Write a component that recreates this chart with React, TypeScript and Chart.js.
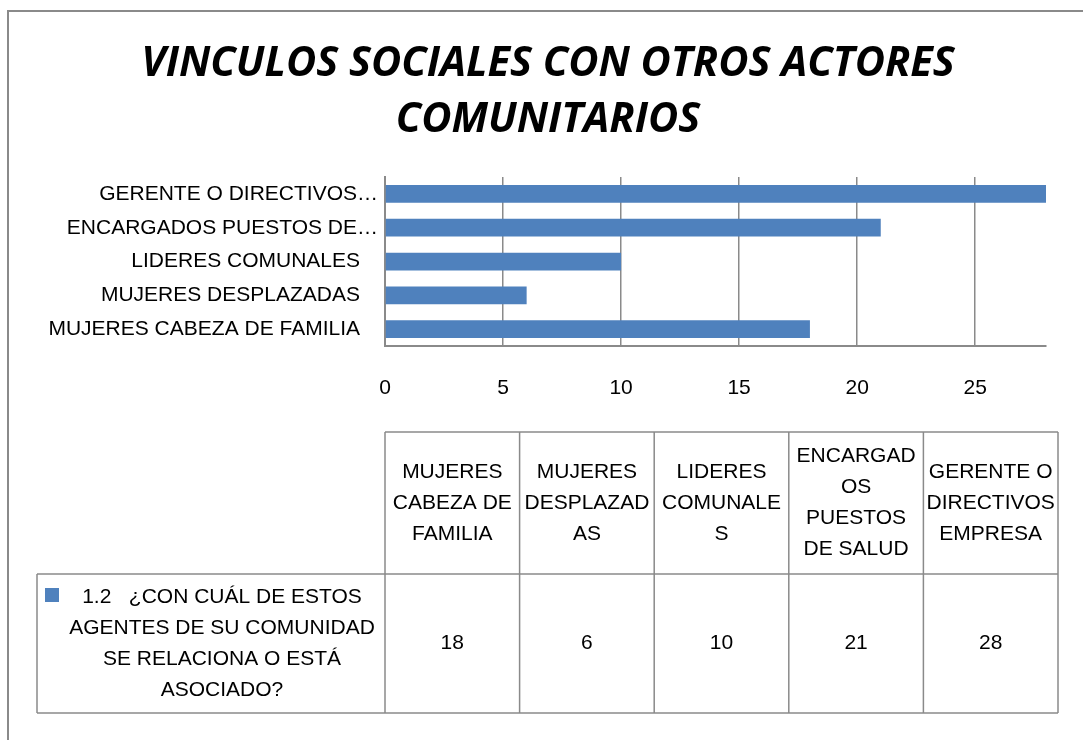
import { useEffect, useRef } from "react";
import { Chart, registerables } from "chart.js";

Chart.register(...registerables);

// ---- data ----
const categories = [
  "MUJERES CABEZA DE FAMILIA",
  "MUJERES DESPLAZADAS",
  "LIDERES COMUNALES",
  "ENCARGADOS PUESTOS DE SALUD",
  "GERENTE O DIRECTIVOS EMPRESA",
];
const axisLabels = [
  "MUJERES CABEZA DE FAMILIA",
  "MUJERES DESPLAZADAS",
  "LIDERES COMUNALES",
  "ENCARGADOS PUESTOS DE…",
  "GERENTE O DIRECTIVOS…",
];
const values = [18, 6, 10, 21, 28];
const headerLines = [
  ["MUJERES", "CABEZA DE", "FAMILIA"],
  ["MUJERES", "DESPLAZAD", "AS"],
  ["LIDERES", "COMUNALE", "S"],
  ["ENCARGAD", "OS", "PUESTOS", "DE SALUD"],
  ["GERENTE O", "DIRECTIVOS", "EMPRESA"],
];
const seriesName =
  "1.2   ¿CON CUÁL DE ESTOS AGENTES DE SU COMUNIDAD SE RELACIONA O ESTÁ ASOCIADO?";
const seriesLines = [
  "1.2   ¿CON CUÁL DE ESTOS",
  "AGENTES DE SU COMUNIDAD",
  "SE RELACIONA O ESTÁ",
  "ASOCIADO?",
];
const titleLines = ["VINCULOS SOCIALES CON OTROS ACTORES", "COMUNITARIOS"];
const xMin = 0;
const xMax = 28;
const xStep = 5;

// ---- style ----
const BODY_FONT = "'Liberation Sans', Arial, sans-serif";
const BODY_SIZE = 21;
const TITLE_FONT = "'Open Sans', sans-serif";
const BAR = "#4F81BD";
const LINE = "#8a8a8a";

const tablePlugin = {
  id: "tableAndFrame",
  afterDraw(chart: any) {
    const ctx = chart.ctx as CanvasRenderingContext2D;
    const area = chart.chartArea;
    const yScale = chart.scales.y;
    ctx.save();

    // category axis labels
    ctx.font = `${BODY_SIZE}px ${BODY_FONT}`;
    ctx.fillStyle = "#000";
    ctx.textAlign = "right";
    ctx.textBaseline = "middle";
    axisLabels.forEach((lab, i) => {
      const py = yScale.getPixelForValue(i);
      const gap = lab.endsWith("…") ? 7 : 25;
      ctx.fillText(lab, area.left - gap, py);
    });

    // outer frame
    ctx.strokeStyle = LINE;
    ctx.lineWidth = 2;
    ctx.beginPath();
    ctx.moveTo(8, chart.height + 5);
    ctx.lineTo(8, 11);
    ctx.lineTo(chart.width + 5, 11);
    ctx.stroke();

    // data table
    const tLeft = area.left;
    const colW = 134.6;
    const hTop = 432;
    const hBot = 574;
    const bot = 713;
    const legLeft = 37;
    const tRight = tLeft + colW * categories.length;
    const lh = 31;

    ctx.lineWidth = 1.5;
    ctx.strokeStyle = LINE;
    ctx.beginPath();
    ctx.moveTo(tLeft, hTop);
    ctx.lineTo(tRight, hTop);
    ctx.moveTo(legLeft, hBot);
    ctx.lineTo(tRight, hBot);
    ctx.moveTo(legLeft, bot);
    ctx.lineTo(tRight, bot);
    ctx.moveTo(legLeft, hBot);
    ctx.lineTo(legLeft, bot);
    for (let i = 0; i <= categories.length; i++) {
      const x = tLeft + colW * i;
      ctx.moveTo(x, hTop);
      ctx.lineTo(x, bot);
    }
    ctx.stroke();

    ctx.textAlign = "center";
    ctx.textBaseline = "middle";
    ctx.fillStyle = "#000";
    const hMid = (hTop + hBot) / 2;
    const dMid = (hBot + bot) / 2;
    headerLines.forEach((lines, i) => {
      const cx = tLeft + colW * (i + 0.5);
      const start = hMid - ((lines.length - 1) * lh) / 2;
      lines.forEach((t, j) => ctx.fillText(t, cx, start + j * lh));
      ctx.fillText(String(values[i]), cx, dMid);
    });

    // legend cell
    ctx.fillStyle = BAR;
    ctx.fillRect(45, 588, 14, 14);
    ctx.fillStyle = "#000";
    const lStart = dMid - ((seriesLines.length - 1) * lh) / 2;
    seriesLines.forEach((t, j) => ctx.fillText(t, 222, lStart + j * lh));

    ctx.restore();
  },
};

export default function App() {
  const ref = useRef<HTMLCanvasElement | null>(null);
  useEffect(() => {
    if (!ref.current) return;
    const chart = new Chart(ref.current, {
      type: "bar",
      data: {
        labels: categories,
        datasets: [
          {
            label: seriesName,
            data: values,
            backgroundColor: BAR,
            borderWidth: 0,
            barPercentage: 0.525,
            categoryPercentage: 1,
          },
        ],
      },
      options: {
        indexAxis: "y",
        animation: false,
        responsive: true,
        maintainAspectRatio: false,
        layout: { padding: { left: 50, right: 37, top: 0, bottom: 0 } },
        plugins: {
          legend: { display: false },
          tooltip: { enabled: false },
          title: {
            display: true,
            text: titleLines,
            color: "#000",
            font: {
              family: TITLE_FONT,
              size: 41.5,
              weight: "bold",
              style: "italic",
              lineHeight: 1.35,
            },
            padding: { top: 36, bottom: 29 },
          },
        },
        scales: {
          x: {
            type: "linear",
            min: xMin,
            max: xMax,
            ticks: {
              stepSize: xStep,
              includeBounds: false,
              color: "#000",
              font: { family: BODY_FONT, size: BODY_SIZE },
              padding: 30,
            },
            grid: { color: LINE, lineWidth: 1.5, drawTicks: false },
            border: { display: true, color: LINE, width: 2 },
            afterFit: (s: any) => {
              s.height = 394;
            },
          },
          y: {
            type: "category",
            reverse: true,
            ticks: { display: false },
            grid: { display: false },
            border: { display: true, color: LINE, width: 2 },
            afterFit: (s: any) => {
              s.width = 335;
            },
          },
        },
      },
      plugins: [tablePlugin],
    });
    return () => chart.destroy();
  }, []);
  return (
    <div
      style={{
        position: "fixed",
        left: 0,
        top: 0,
        width: 1083,
        height: 740,
        background: "#fff",
      }}
    >
      <canvas ref={ref} />
    </div>
  );
}
